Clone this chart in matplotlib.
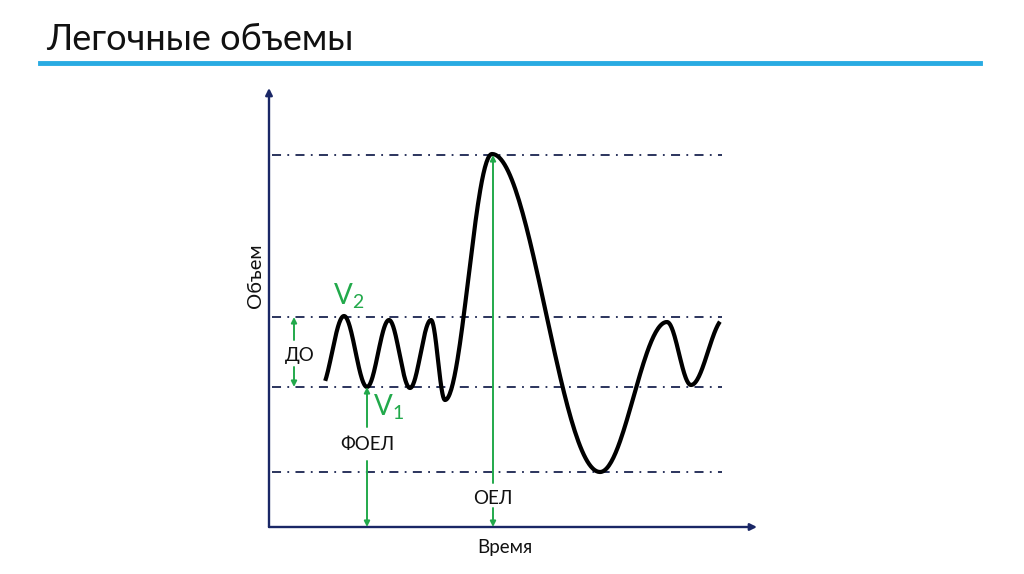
import numpy as np
import matplotlib
matplotlib.use("Agg")
import matplotlib.pyplot as plt
from matplotlib.lines import Line2D

# ---- data (units: axis pixels from origin) ----
title = "Легочные объемы"
xlabel = "Время"
ylabel = "Объем"
# breathing curve extrema (time, volume); first/last are virtual for smooth ends
knot_t = [51, 75, 98, 120, 141, 162, 176, 223, 331, 398, 422, 456]
knot_v = [138, 211, 140, 207, 139, 207, 127, 373, 55, 205, 142, 209]
t_start, t_end = 56, 451
# reference levels
level_tlc = 372
level_do_top = 210
level_do_bot = 140
level_rv = 55
lvl_values = [level_tlc, level_do_top, level_do_bot, level_rv]
# annotation positions
x_do, x_foel, x_oel = 25, 98, 224

navy = "#1a2766"
dashc = "#1a2450"
green = "#22a94b"

fig = plt.figure(figsize=(10.24, 5.74), dpi=100)
W, H = 1024, 574
ox, oy = 269, 527
ax_w, ax_h = 488, 439
ax = fig.add_axes([ox / W, (H - oy) / H, ax_w / W, ax_h / H])
ax.set_xlim(0, ax_w)
ax.set_ylim(0, ax_h)
ax.axis("off")

font = ["Lato", "DejaVu Sans"]

# title and blue rule
fig.text(46 / W, 1 - 40 / H, title, fontsize=26, family=font,
         va="center", ha="left", color="#111111")
fig.add_artist(Line2D([40 / W, 980 / W], [1 - 63 / H, 1 - 63 / H], color="#29abe2", lw=3.5))

# axes with arrows
ax.annotate("", xy=(0, 1), xytext=(0, 0), xycoords="axes fraction",
            arrowprops=dict(arrowstyle="-|>", color=navy, lw=1.7, mutation_scale=10, shrinkA=0, shrinkB=0),
            annotation_clip=False)
ax.annotate("", xy=(1, 0), xytext=(0, 0), xycoords="axes fraction",
            arrowprops=dict(arrowstyle="-|>", color=navy, lw=1.7, mutation_scale=10, shrinkA=0, shrinkB=0),
            annotation_clip=False)

# dash-dot level lines
for lv in lvl_values:
    ax.plot([3, 453], [lv, lv], color=dashc, lw=1.3, ls=(0, (5, 3.5, 1, 3.5)))

# smooth curve through extrema (cosine easing between knots)
tt, vv = [], []
for i in range(len(knot_t) - 1):
    s = np.linspace(0, 1, 60, endpoint=False)
    e = (1 - np.cos(np.pi * s)) / 2
    tt.append(knot_t[i] + (knot_t[i + 1] - knot_t[i]) * s)
    vv.append(knot_v[i] + (knot_v[i + 1] - knot_v[i]) * e)
tt = np.concatenate(tt)
vv = np.concatenate(vv)
m = (tt >= t_start) & (tt <= t_end)
ax.plot(tt[m], vv[m], color="black", lw=3.0, solid_capstyle="butt")

def garrow(x, y0, y1):
    ax.annotate("", xy=(x, y1), xytext=(x, y0),
                arrowprops=dict(arrowstyle="-|>", color=green, lw=1.4, mutation_scale=8, shrinkA=0, shrinkB=0),
                annotation_clip=False)

lab = dict(fontsize=13.5, family=font, ha="center", va="center", color="#111111")
# ДО
garrow(x_do, 187, level_do_top)
garrow(x_do, 160, level_do_bot)
ax.text(x_do + 6, 172, "ДО", **lab)
# ФОЕЛ
garrow(x_foel, 100, level_do_bot)
garrow(x_foel, 66, 0)
ax.text(x_foel, 82, "ФОЕЛ", **lab)
# ОЕЛ
garrow(x_oel, 44, level_tlc)
garrow(x_oel, 19, 0)
ax.text(x_oel, 29, "ОЕЛ", **lab)

# V labels
ax.text(64, 231, r"$\mathregular{V_2}$", fontsize=20, family=font, color=green, ha="left", va="center")
ax.text(104, 120, r"$\mathregular{V_1}$", fontsize=20, family=font, color=green, ha="left", va="center")

# axis labels
ax.text(-14, 251, ylabel, rotation=90, **{**lab, "fontsize": 14.5})
ax.text(236, -20, xlabel, **lab)

fig.savefig("out.png", dpi=100, facecolor="white")
